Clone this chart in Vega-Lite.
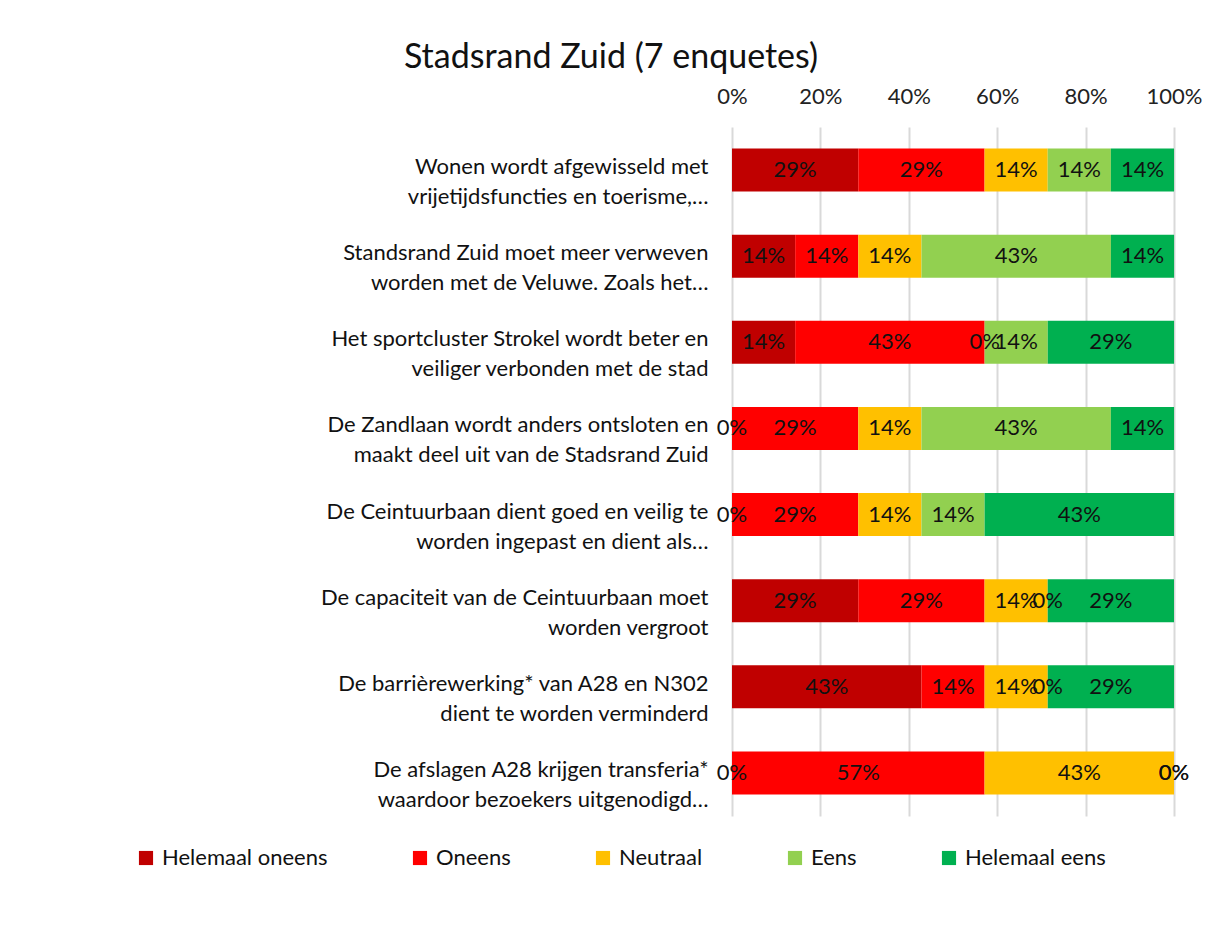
{
  "$schema": "https://vega.github.io/schema/vega-lite/v6.json",
  "width": 442,
  "height": 689,
  "autosize": {"type": "none"},
  "padding": {"left": 732, "top": 127, "right": 39, "bottom": 115},
  "background": "white",
  "config": {
    "font": "Lato",
    "view": {"stroke": null},
    "text": {"font": "Lato"}
  },
  "title": {
    "text": "Stadsrand Zuid (7 enquetes)",
    "fontSize": 34,
    "fontWeight": "normal",
    "font": "Lato",
    "color": "#111111",
    "anchor": "middle",
    "dx": -342,
    "offset": 10
  },
  "data": {
    "values": [
      {"stelling": "Wonen wordt afgewisseld met|vrijetijdsfuncties en toerisme,…", "antwoord": "Helemaal oneens", "aandeel": 0.2857},
      {"stelling": "Wonen wordt afgewisseld met|vrijetijdsfuncties en toerisme,…", "antwoord": "Oneens", "aandeel": 0.2857},
      {"stelling": "Wonen wordt afgewisseld met|vrijetijdsfuncties en toerisme,…", "antwoord": "Neutraal", "aandeel": 0.1429},
      {"stelling": "Wonen wordt afgewisseld met|vrijetijdsfuncties en toerisme,…", "antwoord": "Eens", "aandeel": 0.1429},
      {"stelling": "Wonen wordt afgewisseld met|vrijetijdsfuncties en toerisme,…", "antwoord": "Helemaal eens", "aandeel": 0.1429},
      {"stelling": "Standsrand Zuid moet meer verweven|worden met de Veluwe. Zoals het…", "antwoord": "Helemaal oneens", "aandeel": 0.1429},
      {"stelling": "Standsrand Zuid moet meer verweven|worden met de Veluwe. Zoals het…", "antwoord": "Oneens", "aandeel": 0.1429},
      {"stelling": "Standsrand Zuid moet meer verweven|worden met de Veluwe. Zoals het…", "antwoord": "Neutraal", "aandeel": 0.1429},
      {"stelling": "Standsrand Zuid moet meer verweven|worden met de Veluwe. Zoals het…", "antwoord": "Eens", "aandeel": 0.4286},
      {"stelling": "Standsrand Zuid moet meer verweven|worden met de Veluwe. Zoals het…", "antwoord": "Helemaal eens", "aandeel": 0.1429},
      {"stelling": "Het sportcluster Strokel wordt beter en|veiliger verbonden met de stad", "antwoord": "Helemaal oneens", "aandeel": 0.1429},
      {"stelling": "Het sportcluster Strokel wordt beter en|veiliger verbonden met de stad", "antwoord": "Oneens", "aandeel": 0.4286},
      {"stelling": "Het sportcluster Strokel wordt beter en|veiliger verbonden met de stad", "antwoord": "Neutraal", "aandeel": 0},
      {"stelling": "Het sportcluster Strokel wordt beter en|veiliger verbonden met de stad", "antwoord": "Eens", "aandeel": 0.1429},
      {"stelling": "Het sportcluster Strokel wordt beter en|veiliger verbonden met de stad", "antwoord": "Helemaal eens", "aandeel": 0.2857},
      {"stelling": "De Zandlaan wordt anders ontsloten en|maakt deel uit van de Stadsrand Zuid", "antwoord": "Helemaal oneens", "aandeel": 0},
      {"stelling": "De Zandlaan wordt anders ontsloten en|maakt deel uit van de Stadsrand Zuid", "antwoord": "Oneens", "aandeel": 0.2857},
      {"stelling": "De Zandlaan wordt anders ontsloten en|maakt deel uit van de Stadsrand Zuid", "antwoord": "Neutraal", "aandeel": 0.1429},
      {"stelling": "De Zandlaan wordt anders ontsloten en|maakt deel uit van de Stadsrand Zuid", "antwoord": "Eens", "aandeel": 0.4286},
      {"stelling": "De Zandlaan wordt anders ontsloten en|maakt deel uit van de Stadsrand Zuid", "antwoord": "Helemaal eens", "aandeel": 0.1429},
      {"stelling": "De Ceintuurbaan dient goed en veilig te|worden ingepast en dient als…", "antwoord": "Helemaal oneens", "aandeel": 0},
      {"stelling": "De Ceintuurbaan dient goed en veilig te|worden ingepast en dient als…", "antwoord": "Oneens", "aandeel": 0.2857},
      {"stelling": "De Ceintuurbaan dient goed en veilig te|worden ingepast en dient als…", "antwoord": "Neutraal", "aandeel": 0.1429},
      {"stelling": "De Ceintuurbaan dient goed en veilig te|worden ingepast en dient als…", "antwoord": "Eens", "aandeel": 0.1429},
      {"stelling": "De Ceintuurbaan dient goed en veilig te|worden ingepast en dient als…", "antwoord": "Helemaal eens", "aandeel": 0.4286},
      {"stelling": "De capaciteit van de Ceintuurbaan moet|worden vergroot", "antwoord": "Helemaal oneens", "aandeel": 0.2857},
      {"stelling": "De capaciteit van de Ceintuurbaan moet|worden vergroot", "antwoord": "Oneens", "aandeel": 0.2857},
      {"stelling": "De capaciteit van de Ceintuurbaan moet|worden vergroot", "antwoord": "Neutraal", "aandeel": 0.1429},
      {"stelling": "De capaciteit van de Ceintuurbaan moet|worden vergroot", "antwoord": "Eens", "aandeel": 0},
      {"stelling": "De capaciteit van de Ceintuurbaan moet|worden vergroot", "antwoord": "Helemaal eens", "aandeel": 0.2857},
      {"stelling": "De barrièrewerking* van A28 en N302|dient te worden verminderd", "antwoord": "Helemaal oneens", "aandeel": 0.4286},
      {"stelling": "De barrièrewerking* van A28 en N302|dient te worden verminderd", "antwoord": "Oneens", "aandeel": 0.1429},
      {"stelling": "De barrièrewerking* van A28 en N302|dient te worden verminderd", "antwoord": "Neutraal", "aandeel": 0.1429},
      {"stelling": "De barrièrewerking* van A28 en N302|dient te worden verminderd", "antwoord": "Eens", "aandeel": 0},
      {"stelling": "De barrièrewerking* van A28 en N302|dient te worden verminderd", "antwoord": "Helemaal eens", "aandeel": 0.2857},
      {"stelling": "De afslagen A28 krijgen transferia*|waardoor bezoekers uitgenodigd…", "antwoord": "Helemaal oneens", "aandeel": 0},
      {"stelling": "De afslagen A28 krijgen transferia*|waardoor bezoekers uitgenodigd…", "antwoord": "Oneens", "aandeel": 0.5714},
      {"stelling": "De afslagen A28 krijgen transferia*|waardoor bezoekers uitgenodigd…", "antwoord": "Neutraal", "aandeel": 0.4286},
      {"stelling": "De afslagen A28 krijgen transferia*|waardoor bezoekers uitgenodigd…", "antwoord": "Eens", "aandeel": 0},
      {"stelling": "De afslagen A28 krijgen transferia*|waardoor bezoekers uitgenodigd…", "antwoord": "Helemaal eens", "aandeel": 0}
    ]
  },
  "transform": [
    {"calculate": "indexof(['Helemaal oneens','Oneens','Neutraal','Eens','Helemaal eens'], datum.antwoord)", "as": "k"},
    {"stack": "aandeel", "groupby": ["stelling"], "sort": [{"field": "k", "order": "ascending"}], "as": ["x0", "x1"]},
    {"calculate": "(datum.x0 + datum.x1) / 2", "as": "xm"}
  ],
  "encoding": {
    "y": {
      "field": "stelling",
      "type": "nominal",
      "sort": null,
      "scale": {"paddingInner": 0.5, "paddingOuter": 0.25},
      "axis": {
        "title": null,
        "domain": false,
        "ticks": false,
        "labelExpr": "split(datum.value, '|')",
        "labelFontSize": 22,
        "labelFont": "Lato",
        "labelColor": "#111111",
        "labelLineHeight": 30,
        "labelOffset": -3,
        "labelPadding": 24,
        "labelLimit": 600,
        "labelAlign": "right",
        "labelBaseline": "middle"
      }
    }
  },
  "layer": [
    {
      "mark": {"type": "bar"},
      "encoding": {
        "x": {
          "field": "x0",
          "type": "quantitative",
          "scale": {"domain": [0, 1], "nice": false},
          "axis": {
            "orient": "top",
            "title": null,
            "format": ".0%",
            "values": [0, 0.2, 0.4, 0.6, 0.8, 1],
            "domain": false,
            "ticks": false,
            "grid": true,
            "gridColor": "#d9d9d9",
            "gridWidth": 2,
            "labelFontSize": 22,
            "labelFont": "Lato",
            "labelColor": "#222222",
            "labelPadding": 19,
            "labelFlush": false
          }
        },
        "x2": {"field": "x1"},
        "color": {
          "field": "antwoord",
          "type": "nominal",
          "scale": {
            "domain": ["Helemaal oneens", "Oneens", "Neutraal", "Eens", "Helemaal eens"],
            "range": ["#C00000", "#FF0000", "#FFC000", "#92D050", "#00B050"]
          },
          "legend": {
            "title": null,
            "orient": "none",
            "direction": "horizontal",
            "legendX": -597,
            "legendY": 720,
            "symbolType": "square",
            "symbolSize": 200,
            "symbolStrokeWidth": 0,
            "symbolOpacity": 1,
            "labelFontSize": 22,
            "labelFont": "Lato",
            "labelColor": "#111111",
            "labelOffset": 5,
            "columnPadding": 81,
            "padding": 0,
            "labelLimit": 300
          }
        }
      }
    },
    {
      "mark": {"type": "text", "fontSize": 22, "font": "Lato", "color": "#111111", "baseline": "middle", "align": "center"},
      "encoding": {
        "x": {"field": "xm", "type": "quantitative"},
        "text": {"field": "aandeel", "type": "quantitative", "format": ".0%"}
      }
    }
  ]
}
